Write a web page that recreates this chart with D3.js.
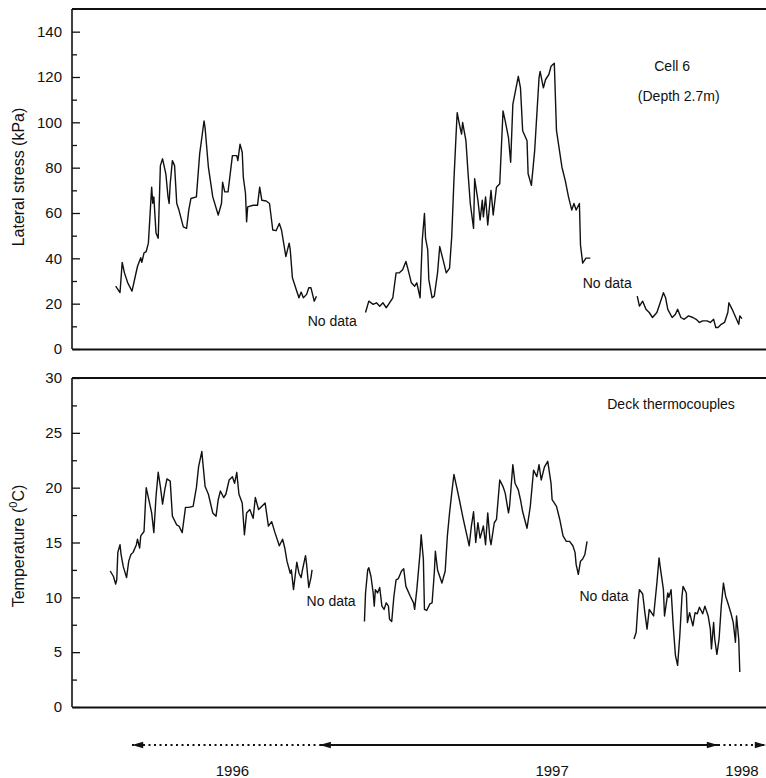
<!DOCTYPE html>
<html>
<head>
<meta charset="utf-8">
<script src="https://cdn.jsdelivr.net/npm/d3@7"></script>
<style>
  body { margin: 0; background: #fff; }
  svg { display: block; }
  text { font-family: "Liberation Sans", Arial, Helvetica, sans-serif; fill: #111; }
</style>
</head>
<body>
<svg width="766" height="778"></svg>
<script>
// time is in days counted from 1 Jan 1996

// lateral stress, cell 6 (kPa): three logged stretches
var stressA = [[178,27.7],[182,24.9],[184,38.2],[186,33.7],[189,29.3],[193,25.5],[196,32.1],[198,36.4],[201,40.3],[202,38.2],
  [204,42.4],[206,43.0],[208,46.7],[211,71.4],[212,64.3],[213,67.1],[215,51.2],[217,48.9],[219,80.9],[221,83.9],
  [224,77.3],[226,67.1],[227,64.2],[228,72.9],[230,83.1],[232,80.9],[234,64.2],[236,61.3],[240,53.9],[243,53.2],
  [245,61.3],[247,66.4],[252,67.1],[255,86.1],[259,100.6],[260,97.4],[263,80.2],[267,67.1],[272,59.1],[275,64.2],
  [276,73.6],[278,69.3],[281,69.3],[285,85.3],[289,85.3],[290,83.1],[292,90.4],[294,86.8],[295,75.8],[297,68.6],
  [298,56.1],[299,62.7],[304,63.4],[308,63.4],[310,71.4],[312,65.6],[316,65.3],[319,64.2],[322,52.5],[325,52.2],
  [328,55.4],[330,52.5],[334,40.8],[337,46.7],[338,43.8],[340,31.4],[344,25.5],[346,22.6],[348,25.1],[350,22.6],
  [353,24.1],[355,27.0],[357,27.0],[360,21.1],[362,23.3]];

var stressB = [[407,16.1],[410,21.1],[414,19.7],[417,20.4],[420,18.9],[423,20.4],[426,18.2],[429,20.4],[432,22.6],[435,33.6],
  [438,33.6],[441,35.0],[444,38.6],[446,35.0],[449,29.2],[452,27.7],[454,29.2],[457,22.6],[459,48.1],[461,59.8],
  [462,48.9],[464,43.8],[465,30.6],[468,22.6],[470,23.3],[473,33.6],[475,45.2],[478,39.4],[481,33.6],[484,35.7],
  [486,49.6],[488,74.4],[490,94.8],[491,104.3],[493,99.2],[495,94.8],[496,99.9],[499,91.9],[501,77.3],[503,64.2],
  [506,53.2],[507,75.1],[510,65.6],[512,56.9],[514,65.6],[515,58.3],[517,67.1],[519,54.7],[522,70.0],[524,59.1],
  [527,71.4],[530,72.9],[533,105.0],[535,100.6],[538,93.3],[540,82.4],[542,107.9],[547,120.3],[549,115.2],[551,96.3],
  [555,91.9],[556,77.3],[559,72.2],[562,87.5],[566,119.6],[567,122.5],[570,115.2],[572,118.9],[575,121.1],[577,124.7],
  [580,126.1],[582,96.3],[587,80.2],[590,74.4],[593,67.1],[596,61.3],[598,64.2],[600,61.3],[603,64.2],[604,45.9],
  [606,37.9],[609,40.1],[613,40.1]];

var stressC = [[656,23.3],[658,18.9],[661,21.1],[664,17.5],[667,16.1],[670,13.9],[674,16.1],[677,20.4],[680,24.8],[682,22.6],
  [684,17.5],[688,13.9],[691,15.3],[693,17.5],[696,13.9],[699,13.1],[703,14.6],[707,13.9],[710,13.1],[713,11.7],
  [716,12.4],[720,12.4],[723,11.7],[726,13.1],[728,9.5],[730,9.5],[733,10.9],[736,11.7],[739,16.1],[740,20.4],
  [743,17.5],[745,15.3],[747,13.1],[749,10.9],[750,14.6],[752,13.4]];

// deck thermocouples (deg C)
var tempA = [[173,12.4],[176,11.9],[178,11.2],[179,11.6],[180,14.1],[182,14.8],[183,13.9],[185,12.8],[188,11.8],[190,13.3],
  [192,13.9],[194,14.1],[197,14.8],[198,15.3],[200,14.5],[201,15.6],[204,16.0],[206,20.0],[208,19.1],[211,17.7],
  [213,15.9],[215,19.2],[217,21.4],[219,20.1],[221,18.5],[223,19.8],[225,20.8],[228,20.6],[230,17.4],[234,16.6],
  [236,16.5],[239,15.9],[242,18.2],[245,18.2],[249,18.3],[252,20.0],[254,21.9],[257,23.3],[258,22.2],[260,20.1],
  [263,19.4],[267,17.7],[270,17.4],[272,18.9],[274,19.7],[277,19.1],[279,19.4],[282,20.7],[285,21.0],[287,20.4],
  [289,21.4],[291,19.4],[294,18.6],[296,15.7],[298,17.7],[301,18.0],[304,17.2],[306,19.1],[309,18.0],[312,18.3],
  [315,18.6],[318,16.5],[321,16.9],[324,15.9],[328,14.7],[331,15.3],[333,14.5],[335,13.3],[338,12.2],[339,12.5],
  [341,10.7],[344,13.2],[346,12.2],[348,11.8],[349,12.4],[352,13.8],[353,13.0],[355,10.9],[357,11.8],[358,12.5]];

var tempB = [[406,7.8],[407,10.4],[409,12.5],[410,12.7],[412,11.9],[414,10.4],[415,9.2],[416,10.7],[418,10.4],[420,10.9],
  [422,9.2],[424,8.9],[426,9.5],[428,9.2],[429,8.0],[431,7.8],[433,10.1],[435,11.6],[437,11.7],[440,12.4],
  [442,12.6],[444,11.0],[448,10.1],[451,9.5],[452,8.9],[454,10.7],[457,14.1],[458,15.7],[460,13.5],[461,8.9],
  [463,8.8],[466,9.4],[468,9.5],[470,12.2],[471,14.2],[473,12.5],[477,11.3],[480,12.4],[482,15.6],[484,17.7],
  [486,19.5],[488,21.2],[490,20.3],[493,18.9],[496,17.4],[498,16.5],[500,15.6],[502,14.7],[504,16.5],[506,17.8],
  [508,15.0],[510,16.8],[512,15.4],[515,16.5],[517,14.8],[519,17.7],[521,15.3],[522,14.8],[525,16.8],[527,17.1],
  [530,20.7],[533,20.1],[535,19.5],[538,17.7],[539,18.3],[542,22.1],[544,20.4],[547,19.8],[549,18.9],[551,17.8],
  [555,16.3],[558,18.3],[561,21.6],[564,21.0],[566,22.1],[568,20.7],[571,21.9],[574,22.4],[577,20.4],[578,18.9],
  [582,18.3],[585,17.1],[588,15.6],[591,15.1],[594,15.1],[597,14.7],[599,14.1],[600,13.0],[602,12.1],[604,13.3],
  [606,13.5],[608,13.9],[610,15.1]];

var tempC = [[653,6.2],[655,6.8],[657,9.8],[658,10.7],[661,10.3],[663,8.6],[665,7.1],[667,8.9],[669,8.6],[671,8.3],
  [674,11.3],[676,13.6],[677,12.8],[680,10.7],[681,8.3],[684,10.4],[685,10.0],[687,10.7],[689,7.4],[691,4.7],
  [693,3.8],[695,6.5],[697,10.1],[698,11.0],[701,10.4],[702,7.7],[704,8.6],[707,7.4],[709,8.6],[711,8.5],
  [713,9.1],[716,8.5],[718,9.2],[721,8.3],[723,7.1],[724,5.3],[726,7.7],[727,6.2],[729,4.8],[731,6.2],
  [733,9.2],[735,11.3],[737,10.1],[739,9.5],[742,8.5],[744,7.7],[746,5.9],[747,8.3],[749,6.2],[750,3.2]];

var stressTicks = [0, 20, 40, 60, 80, 100, 120, 140];
var stressMinor = [10, 30, 50, 70, 90, 110, 130];
var tempTicks = [0, 5, 10, 15, 20, 25, 30];
var tempMinor = [2.5, 7.5, 12.5, 17.5, 22.5, 27.5];

// year arrows under the plot: [from day, to day, dotted?]
var yearSpans = [[193, 365, true], [365, 730, false], [730, 774, true]];
var yearLabels = [["1996", 285], ["1997", 578], ["1998", 752]];

var svg = d3.select("svg");

var x = d3.scaleLinear().domain([138, 774]).range([72, 766]);
var yS = d3.scaleLinear().domain([0, 150]).range([349, 9]);
var yT = d3.scaleLinear().domain([0, 30]).range([707, 378]);

var defs = svg.append("defs");
defs.append("marker")
    .attr("id", "head")
    .attr("viewBox", "0 -5 14 10")
    .attr("refX", 14)
    .attr("refY", 0)
    .attr("markerUnits", "userSpaceOnUse")
    .attr("markerWidth", 14)
    .attr("markerHeight", 8)
    .attr("orient", "auto-start-reverse")
  .append("path")
    .attr("d", "M0,-4L14,0L0,4Z")
    .attr("fill", "#111");

function panel(y, major, minor, top, series) {
    var g = svg.append("g");

    var ax = g.append("g")
        .attr("transform", "translate(72,0)")
        .call(d3.axisLeft(y).tickValues(major).tickSizeInner(-8).tickSizeOuter(0).tickPadding(10));
    ax.select(".domain").attr("stroke", "#111").attr("stroke-width", 1.6)
        .attr("d", "M0," + y.range()[0] + "V" + y(top));
    ax.selectAll(".tick line").attr("stroke", "#111").attr("stroke-width", 1.3);
    ax.selectAll(".tick text").style("font-size", "15px").attr("fill", "#111");

    var mn = g.append("g")
        .attr("transform", "translate(72,0)")
        .call(d3.axisLeft(y).tickValues(minor).tickSize(-5).tickFormat(""));
    mn.select(".domain").remove();
    mn.selectAll(".tick line").attr("stroke", "#111").attr("stroke-width", 1.3);

    g.append("g")
        .attr("transform", "translate(0," + y(0) + ")")
        .call(d3.axisBottom(x).tickValues([]).tickSizeOuter(0))
        .select(".domain").attr("stroke", "#111").attr("stroke-width", 2);

    g.append("line")
        .attr("x1", x.range()[0]).attr("x2", x.range()[1])
        .attr("y1", y(top)).attr("y2", y(top))
        .attr("stroke", "#111").attr("stroke-width", 2);

    var line = d3.line()
        .x(function(d) { return x(d[0]); })
        .y(function(d) { return y(d[1]); });

    g.selectAll("path.trace")
        .data(series)
        .enter()
            .append("path")
            .attr("class", "trace")
            .attr("d", line)
            .attr("fill", "none")
            .attr("stroke", "#111")
            .attr("stroke-width", 1.4)
            .attr("stroke-linejoin", "round");
    return g;
}

panel(yS, stressTicks, stressMinor, 150, [stressA, stressB, stressC]);
panel(yT, tempTicks, tempMinor, 30, [tempA, tempB, tempC]);

// axis titles
svg.append("text")
    .attr("transform", "translate(24,177) rotate(-90)")
    .attr("text-anchor", "middle")
    .style("font-size", "16px")
    .text("Lateral stress (kPa)");

var tt = svg.append("text")
    .attr("transform", "translate(24,546) rotate(-90)")
    .attr("text-anchor", "middle")
    .style("font-size", "16px");
tt.append("tspan").text("Temperature (");
tt.append("tspan").attr("dy", -7).style("font-size", "11px").text("0");
tt.append("tspan").attr("dy", 7).text("C)");

// annotations
function note(px, py, s, anchor) {
    svg.append("text")
        .attr("x", px).attr("y", py)
        .attr("text-anchor", anchor || "start")
        .style("font-size", "14px")
        .text(s);
}
note(x(688), yS(122.6), "Cell 6", "middle");
note(x(694), yS(109.4), "(Depth 2.7m)", "middle");
note(x(354), yS(10), "No data");
note(x(606), yS(27), "No data");
note(x(687), yT(27.2), "Deck thermocouples", "middle");
note(x(353), yT(9.2), "No data");
note(x(603), yT(9.7), "No data");

// year arrows
svg.append("g").selectAll("line")
    .data(yearSpans)
    .enter()
        .append("line")
        .attr("x1", function(d) { return x(d[0]); })
        .attr("x2", function(d) { return x(d[1]); })
        .attr("y1", 745).attr("y2", 745)
        .attr("stroke", "#111")
        .attr("stroke-width", function(d) { return d[2] ? 2 : 1.8; })
        .attr("stroke-dasharray", function(d) { return d[2] ? "2,3.5" : null; })
        .each(function(d, i) {
            var item = d3.select(this);
            if (i == 0) item.attr("marker-start", "url(#head)");
            if (i == 1) item.attr("marker-start", "url(#head)").attr("marker-end", "url(#head)");
            if (i == 2) item.attr("marker-end", "url(#head)");
        });

svg.append("g").selectAll("text")
    .data(yearLabels)
    .enter()
        .append("text")
        .attr("x", function(d) { return x(d[1]); })
        .attr("y", 776)
        .attr("text-anchor", "middle")
        .style("font-size", "15px")
        .text(function(d) { return d[0]; });
</script>
</body>
</html>
